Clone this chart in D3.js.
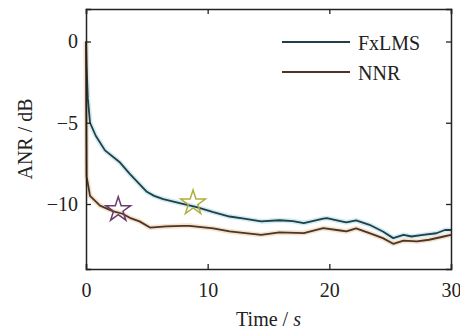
<!DOCTYPE html>
<html>
<head>
    <meta charset="utf-8">
    <script src="https://d3js.org/d3.v7.min.js"></script>
    <style>
        body { margin: 0; background: #fff; }
        svg text { font-family: "Liberation Serif", "Times New Roman", Times, "DejaVu Serif", serif; fill: #222; }
    </style>
</head>
<body>
    <svg id="plot" width="460" height="333"></svg>
    <script>
        // data: [time in s, ANR in dB]
        const fxlms = [
            [0, 0], [0.05, -1.5], [0.15, -3.5], [0.33, -5], [0.8, -5.8], [1.56, -6.7],
            [2.8, -7.45], [3.6, -8.15], [4.3, -8.7], [5.0, -9.25], [5.6, -9.5], [6.35, -9.7],
            [7.7, -9.94], [9.1, -10.19], [10.46, -10.5], [11.8, -10.77], [13, -10.9],
            [14.4, -11.07], [15.9, -11.0], [17.0, -11.05], [17.9, -11.17], [19.5, -10.9],
            [19.8, -10.87], [20.9, -11.05], [21.4, -11.13], [22.2, -11.01], [23.3, -11.28],
            [24.4, -11.69], [25.25, -12.1], [26.1, -11.9], [26.75, -12.0], [27.7, -11.9],
            [28.8, -11.8], [29.5, -11.6], [30, -11.6]
        ];
        const nnr = [
            [0, 0], [0.02, -4], [0.05, -8.3], [0.33, -9.5], [1.15, -10.1], [2.25, -10.45],
            [3.0, -10.6], [3.6, -10.85], [4.4, -11.07], [5.26, -11.45], [6.6, -11.38],
            [8.0, -11.34], [8.5, -11.34], [10.46, -11.5], [11.8, -11.69], [14.4, -11.9],
            [15.9, -11.75], [17.9, -11.79], [19.5, -11.48], [20.9, -11.63], [21.4, -11.69],
            [22.2, -11.5], [23.3, -11.79], [24.4, -12.1], [25.25, -12.45], [26.1, -12.25],
            [27.2, -12.3], [28.2, -12.2], [29.4, -12.0], [30, -11.9]
        ];
        // star markers: [time, ANR]
        const nnrStar = [2.65, -10.35];
        const fxlmsStar = [8.8, -9.94];

        const xTicks = [0, 10, 20, 30];
        const yTicks = [0, -5, -10];
        const legendNames = ["FxLMS", "NNR"];

        const svg = d3.select('svg#plot');
        const margin = {top: 9, right: 9, bottom: 64, left: 86};
        const chartWidth = 460 - margin.left - margin.right;
        const chartHeight = 333 - margin.top - margin.bottom;

        const chartArea = svg.append('g')
            .attr('transform', `translate(${margin.left},${margin.top})`);

        const xScale = d3.scaleLinear().domain([0, 30]).range([0, chartWidth]);
        const yScale = d3.scaleLinear().domain([-14, 2]).range([chartHeight, 0]);

        const colors = {FxLMS: '#1f4046', NNR: '#4e3427'};
        const halos = {FxLMS: '#d3ecf3', NNR: '#f4e2cc'};

        const line = d3.line()
            .x(d => xScale(d[0]))
            .y(d => yScale(d[1]));

        //curves, with a soft halo underneath
        [['FxLMS', fxlms], ['NNR', nnr]].forEach(([name, data]) => {
            chartArea.append('path')
                .datum(data)
                .attr('d', line)
                .attr('fill', 'none')
                .attr('stroke', halos[name])
                .attr('stroke-width', 5)
                .attr('stroke-linejoin', 'round');
        });
        [['FxLMS', fxlms], ['NNR', nnr]].forEach(([name, data]) => {
            chartArea.append('path')
                .datum(data)
                .attr('d', line)
                .attr('fill', 'none')
                .attr('stroke', colors[name])
                .attr('stroke-width', 1.8)
                .attr('stroke-linejoin', 'round');
        });

        //stars
        const star = d3.symbol().type(d3.symbolStar).size(190);
        [[nnrStar, '#6b3d6e'], [fxlmsStar, '#b1ad3e']].forEach(([p, c]) => {
            chartArea.append('path')
                .attr('d', star)
                .attr('transform', `translate(${xScale(p[0])},${yScale(p[1])})`)
                .attr('fill', 'none')
                .attr('stroke', c)
                .attr('stroke-width', 1.5);
        });

        //axes, ticks pointing inward on all four sides
        const tickLen = 5;
        chartArea.append('g')
            .attr('transform', `translate(0,${chartHeight})`)
            .call(d3.axisBottom(xScale).tickValues(xTicks).tickSize(-tickLen).tickPadding(14).tickFormat(d3.format('d')));
        chartArea.append('g')
            .call(d3.axisTop(xScale).tickValues(xTicks).tickSize(-tickLen).tickFormat(''));
        chartArea.append('g')
            .call(d3.axisLeft(yScale).tickValues(yTicks).tickSize(-tickLen).tickPadding(8).tickFormat(d3.format('d')));
        chartArea.append('g')
            .attr('transform', `translate(${chartWidth},0)`)
            .call(d3.axisRight(yScale).tickValues(yTicks).tickSize(-tickLen).tickFormat(''));

        chartArea.selectAll('.domain').attr('stroke', '#222').attr('stroke-width', 1.5);
        chartArea.selectAll('.tick line').attr('stroke', '#222').attr('stroke-width', 1.3);
        chartArea.selectAll('g').attr('font-family', null);
        chartArea.selectAll('.tick text')
            .attr('font-size', '20px')
            .attr('fill', '#222');

        //axis titles
        const xTitle = svg.append('text')
            .attr('x', margin.left + chartWidth / 2)
            .attr('y', 326)
            .attr('text-anchor', 'middle')
            .attr('font-size', '20px');
        xTitle.append('tspan').text('Time / ');
        xTitle.append('tspan').attr('font-style', 'italic').text('s');

        svg.append('text')
            .attr('transform', `translate(32,${margin.top + yScale(-6)}) rotate(-90)`)
            .attr('text-anchor', 'middle')
            .attr('font-size', '20px')
            .text('ANR / dB');

        //legend
        legendNames.forEach((name, i) => {
            const y = 42 + i * 30;
            svg.append('line')
                .attr('x1', 282).attr('x2', 350)
                .attr('y1', y).attr('y2', y)
                .attr('stroke', colors[name])
                .attr('stroke-width', 1.8);
            svg.append('text')
                .attr('x', 358)
                .attr('y', y + 8)
                .attr('font-size', '20px')
                .text(name);
        });
    </script>
</body>
</html>
